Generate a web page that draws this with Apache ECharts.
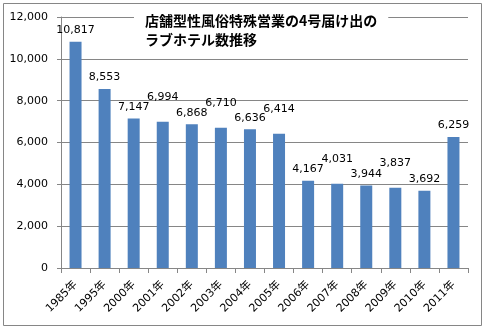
<!DOCTYPE html>
<html>
<head>
<meta charset="utf-8">
<script src="https://cdn.jsdelivr.net/npm/echarts@6/dist/echarts.min.js"></script>
<style>
html,body{margin:0;padding:0;background:#fff;}
#chart{width:487px;height:329px;}
</style>
</head>
<body>
<div id="chart"></div>
<script>
const titleText = '店舗型性風俗特殊営業の4号届け出の\nラブホテル数推移';
const categories = ['1985年','1995年','2000年','2001年','2002年','2003年','2004年','2005年','2006年','2007年','2008年','2009年','2010年','2011年'];
const hotelCounts = [10817, 8553, 7147, 6994, 6868, 6710, 6636, 6414, 4167, 4031, 3944, 3837, 3692, 6259];
const yTicks = [0, 2000, 4000, 6000, 8000, 10000, 12000];

const FONT = '"DejaVu Sans", "Noto Sans CJK JP", sans-serif';
const GRAY = '#868686';
const fmt = v => v.toLocaleString('en-US');

const chart = echarts.init(document.getElementById('chart'), null, {renderer: 'canvas'});
chart.setOption({
  animation: false,
  backgroundColor: '#fff',
  title: {
    text: titleText,
    left: 134,
    top: 9,
    padding: [2, 11, 2, 11],
    backgroundColor: '#fff',
    textStyle: {
      fontFamily: '"Noto Sans CJK JP", sans-serif',
      fontSize: 14,
      fontWeight: 'bold',
      color: '#000',
      lineHeight: 19
    }
  },
  graphic: [{
    type: 'rect',
    shape: {x: 3.5, y: 3.5, width: 478, height: 322},
    style: {fill: 'none', stroke: GRAY, lineWidth: 1},
    silent: true,
    z: -1
  }],
  grid: {left: 61, right: 19, top: 17, bottom: 61},
  xAxis: {
    type: 'category',
    data: categories,
    axisLine: {lineStyle: {color: GRAY}},
    axisTick: {show: true, alignWithLabel: false, length: 5, lineStyle: {color: GRAY}},
    axisLabel: {
      rotate: 45,
      interval: 0,
      margin: 15,
      fontFamily: FONT,
      fontSize: 11,
      color: '#000'
    }
  },
  yAxis: {
    type: 'value',
    min: yTicks[0],
    max: yTicks[yTicks.length - 1],
    interval: yTicks[1] - yTicks[0],
    axisLine: {show: true, lineStyle: {color: GRAY}},
    axisTick: {show: true, length: 4, lineStyle: {color: GRAY}},
    splitLine: {show: true, lineStyle: {color: GRAY}},
    axisLabel: {
      margin: 13,
      fontFamily: FONT,
      fontSize: 11,
      color: '#000',
      formatter: fmt
    }
  },
  series: [{
    type: 'bar',
    barWidth: 12,
    itemStyle: {color: '#4F81BD'},
    label: {
      show: true,
      position: 'top',
      fontFamily: FONT,
      fontSize: 11,
      color: '#000',
      formatter: p => fmt(p.value)
    },
    data: hotelCounts.map((v, i) => ({
      value: v,
      label: {distance: (i >= 3 && i <= 11 && i % 2 === 1) ? 19 : 6}
    }))
  }]
});
</script>
</body>
</html>
